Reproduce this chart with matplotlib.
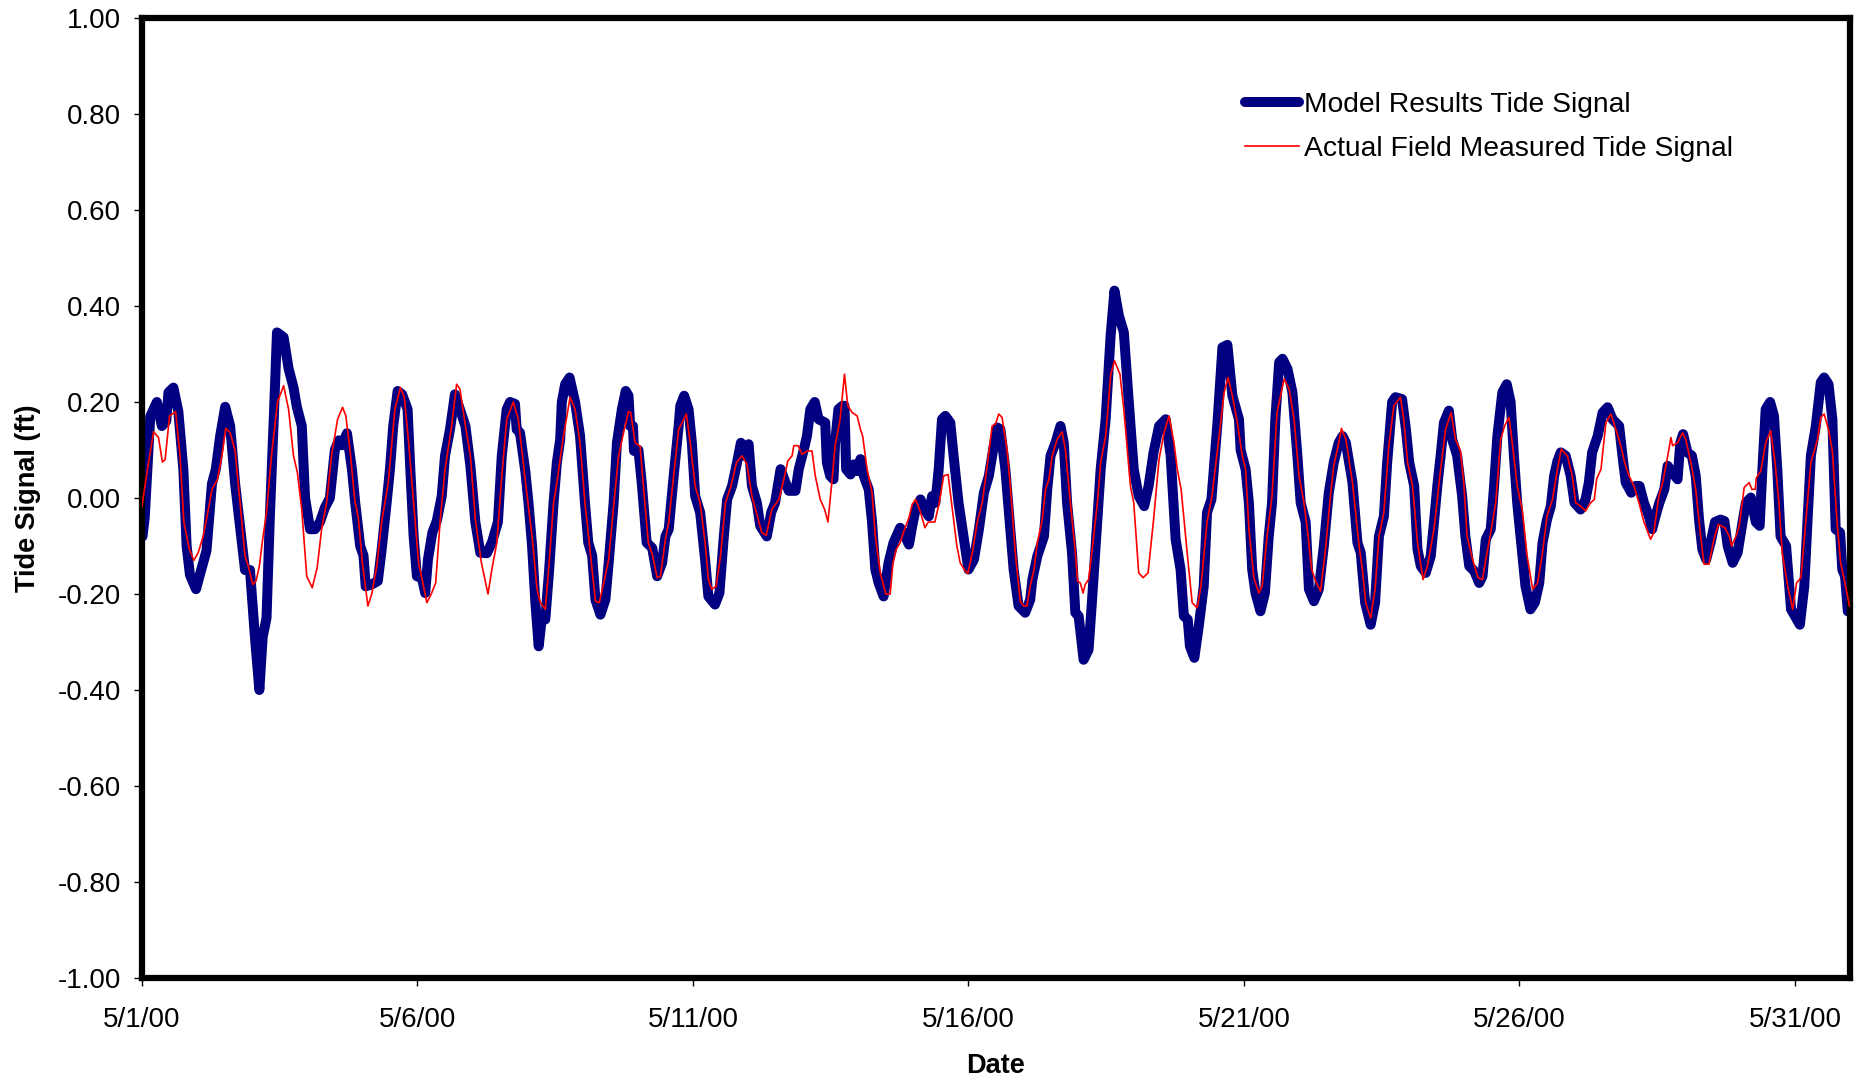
import matplotlib
matplotlib.use("Agg")
import matplotlib.pyplot as plt

plt.rcParams['font.family'] = ['Liberation Sans', 'DejaVu Sans']

# x values: days after 5/1/00 00:00 ; y values: tide signal (ft)
model_day = [0.01, 0.05, 0.15, 0.27, 0.36, 0.44, 0.48, 0.57, 0.66, 0.75, 0.81, 0.87, 0.98, 1.05, 1.17, 1.27, 1.34, 1.42,
             1.51, 1.60, 1.69, 1.81, 1.87, 1.96, 2.05, 2.13, 2.19, 2.26, 2.32, 2.39, 2.45, 2.57, 2.66, 2.75, 2.81, 2.90,
             2.96, 3.05, 3.14, 3.23, 3.32, 3.41, 3.50, 3.57, 3.63, 3.72, 3.81, 3.87, 3.96, 4.02, 4.06, 4.17, 4.28, 4.35,
             4.44, 4.50, 4.56, 4.64, 4.72, 4.82, 4.87, 4.93, 4.99, 5.08, 5.14, 5.19, 5.27, 5.35, 5.44, 5.50, 5.59, 5.68,
             5.77, 5.87, 5.96, 6.05, 6.14, 6.26, 6.35, 6.46, 6.53, 6.62, 6.68, 6.77, 6.80, 6.86, 6.96, 7.02, 7.08, 7.14,
             7.20, 7.26, 7.32, 7.39, 7.47, 7.53, 7.59, 7.62, 7.68, 7.76, 7.86, 7.95, 8.04, 8.10, 8.17, 8.23, 8.32, 8.41,
             8.47, 8.56, 8.62, 8.71, 8.78, 8.83, 8.86, 8.91, 8.93, 9.01, 9.07, 9.16, 9.26, 9.35, 9.44, 9.50, 9.56, 9.65,
             9.74, 9.77, 9.84, 9.92, 9.98, 10.04, 10.13, 10.22, 10.28, 10.40, 10.48, 10.56, 10.62, 10.71, 10.80, 10.87,
             10.93, 11.01, 11.07, 11.16, 11.22, 11.34, 11.42, 11.49, 11.59, 11.68, 11.74, 11.86, 11.92, 12.01, 12.07,
             12.13, 12.21, 12.28, 12.40, 12.43, 12.49, 12.55, 12.58, 12.64, 12.71, 12.75, 12.78, 12.86, 12.92, 12.98,
             13.04, 13.10, 13.19, 13.25, 13.31, 13.37, 13.46, 13.55, 13.64, 13.76, 13.82, 13.92, 13.98, 14.04, 14.13,
             14.22, 14.28, 14.34, 14.40, 14.46, 14.52, 14.58, 14.67, 14.73, 14.82, 14.91, 15.00, 15.10, 15.19, 15.28,
             15.37, 15.46, 15.52, 15.58, 15.67, 15.76, 15.82, 15.91, 16.03, 16.12, 16.16, 16.25, 16.37, 16.43, 16.49,
             16.58, 16.67, 16.73, 16.79, 16.88, 16.94, 17.00, 17.09, 17.18, 17.24, 17.30, 17.40, 17.49, 17.58, 17.65,
             17.73, 17.82, 17.91, 18.00, 18.09, 18.19, 18.27, 18.36, 18.46, 18.58, 18.67, 18.76, 18.85, 18.91, 18.98,
             19.02, 19.10, 19.18, 19.27, 19.33, 19.41, 19.52, 19.61, 19.70, 19.79, 19.91, 19.94, 20.03, 20.09, 20.15,
             20.21, 20.30, 20.38, 20.45, 20.51, 20.57, 20.64, 20.70, 20.79, 20.88, 20.97, 21.03, 21.12, 21.18, 21.27,
             21.36, 21.45, 21.54, 21.63, 21.72, 21.79, 21.85, 21.97, 22.06, 22.12, 22.20, 22.30, 22.38, 22.45, 22.54,
             22.60, 22.69, 22.75, 22.87, 22.94, 23.00, 23.09, 23.15, 23.21, 23.30, 23.39, 23.45, 23.51, 23.57, 23.63,
             23.72, 23.78, 23.87, 23.96, 24.02, 24.09, 24.18, 24.27, 24.33, 24.39, 24.48, 24.54, 24.60, 24.69, 24.77,
             24.84, 24.90, 24.96, 25.02, 25.11, 25.20, 25.28, 25.36, 25.42, 25.50, 25.57, 25.63, 25.69, 25.75, 25.84,
             25.93, 26.00, 26.11, 26.20, 26.26, 26.32, 26.42, 26.51, 26.60, 26.69, 26.81, 26.87, 26.93, 27.03, 27.11,
             27.18, 27.26, 27.35, 27.41, 27.47, 27.54, 27.63, 27.69, 27.78, 27.87, 27.92, 27.97, 28.05, 28.13, 28.20,
             28.26, 28.32, 28.39, 28.47, 28.55, 28.65, 28.72, 28.78, 28.87, 28.96, 29.05, 29.11, 29.20, 29.29, 29.36,
             29.41, 29.47, 29.55, 29.62, 29.68, 29.74, 29.84, 29.93, 30.00, 30.09, 30.17, 30.23, 30.29, 30.38, 30.47,
             30.53, 30.61, 30.68, 30.74, 30.82, 30.86, 30.91, 30.96]
model_ft = [-0.08, -0.04, 0.17, 0.20, 0.15, 0.16, 0.22, 0.23, 0.18, 0.06, -0.10, -0.16, -0.19, -0.16, -0.11, 0.03, 0.06, 0.13,
            0.19, 0.15, 0.03, -0.09, -0.15, -0.15, -0.29, -0.40, -0.29, -0.25, -0.04, 0.16, 0.345, 0.335, 0.27, 0.23, 0.19, 0.15,
            0.00, -0.065, -0.065, -0.05, -0.02, 0.00, 0.10, 0.12, 0.11, 0.135, 0.06, -0.01, -0.10, -0.12, -0.184, -0.18, -0.173, -0.107,
            -0.01, 0.06, 0.15, 0.223, 0.216, 0.185, 0.06, -0.08, -0.163, -0.166, -0.198, -0.128, -0.072, -0.048, 0.004, 0.088, 0.143, 0.216,
            0.185, 0.15, 0.067, -0.05, -0.114, -0.115, -0.093, -0.05, 0.088, 0.185, 0.20, 0.196, 0.143, 0.136, 0.053, -0.017, -0.10, -0.218,
            -0.309, -0.246, -0.253, -0.149, -0.01, 0.074, 0.122, 0.20, 0.237, 0.251, 0.20, 0.13, -0.01, -0.093, -0.12, -0.212, -0.243, -0.212,
            -0.135, -0.01, 0.115, 0.185, 0.223, 0.213, 0.15, 0.15, 0.098, 0.10, 0.032, -0.093, -0.104, -0.163, -0.135, -0.08, -0.065, 0.046,
            0.15, 0.192, 0.213, 0.185, 0.115, 0.004, -0.03, -0.128, -0.205, -0.222, -0.198, -0.08, -0.003, 0.025, 0.074, 0.115,
            0.088, 0.112, 0.025, -0.01, -0.058, -0.08, -0.03, -0.01, 0.06, 0.032, 0.015, 0.015, 0.06, 0.10, 0.13,
            0.185, 0.20, 0.164, 0.157, 0.074, 0.046, 0.039, 0.115, 0.185, 0.192, 0.192, 0.06, 0.049, 0.07, 0.056,
            0.081, 0.046, 0.018, -0.05, -0.149, -0.177, -0.205, -0.135, -0.093, -0.062, -0.072, -0.097, -0.058, -0.024, -0.003,
            -0.027, -0.038, 0.004, -0.01, 0.06, 0.164, 0.171, 0.157, 0.088, -0.01, -0.08, -0.149, -0.128, -0.065, 0.011,
            0.046, 0.109, 0.147, 0.143, 0.06, -0.065, -0.149, -0.225, -0.239, -0.212, -0.17, -0.121, -0.08, 0.018, 0.088,
            0.115, 0.15, 0.115, -0.01, -0.114, -0.239, -0.246, -0.337, -0.316, -0.218, -0.114, 0.06, 0.164, 0.338, 0.432,
            0.38, 0.345, 0.20, 0.06, 0.004, -0.017, 0.025, 0.095, 0.15, 0.164, 0.088, -0.086, -0.149, -0.246, -0.253,
            -0.309, -0.333, -0.267, -0.184, -0.03, -0.003, 0.157, 0.314, 0.319, 0.213, 0.164, 0.10, 0.06, -0.01, -0.149,
            -0.198, -0.236, -0.198, -0.08, -0.01, 0.164, 0.283, 0.29, 0.269, 0.22, 0.088, -0.01, -0.05, -0.19, -0.215,
            -0.19, -0.10, 0.011, 0.074, 0.115, 0.129, 0.115, 0.032, -0.093, -0.114, -0.218, -0.264, -0.218, -0.08, -0.038,
            0.074, 0.20, 0.21, 0.206, 0.143, 0.074, 0.025, -0.107, -0.142, -0.156, -0.121, -0.05, 0.025, 0.088, 0.157,
            0.182, 0.122, 0.088, 0.004, -0.08, -0.142, -0.152, -0.177, -0.163, -0.086, -0.065, 0.025, 0.129, 0.22, 0.237,
            0.20, 0.088, -0.01, -0.08, -0.184, -0.232, -0.218, -0.177, -0.093, -0.045, -0.017, 0.046, 0.077, 0.095, 0.088,
            0.046, -0.01, -0.024, -0.003, 0.032, 0.095, 0.129, 0.178, 0.189, 0.164, 0.15, 0.088, 0.032, 0.011, 0.025,
            0.025, -0.01, -0.038, -0.065, -0.038, -0.01, 0.018, 0.067, 0.053, 0.039, 0.115, 0.133, 0.095, 0.088, 0.046,
            -0.045, -0.107, -0.128, -0.093, -0.05, -0.045, -0.048, -0.10, -0.135, -0.114, -0.05, -0.01, 0.001, -0.05, -0.058,
            0.06, 0.185, 0.20, 0.171, 0.06, -0.08, -0.10, -0.232, -0.246, -0.264, -0.184, -0.045, 0.088, 0.15, 0.241,
            0.251, 0.237, 0.164, -0.065, -0.072, -0.149, -0.163, -0.236]

field_day = [0.00, 0.08, 0.21, 0.30, 0.37, 0.42, 0.50, 0.61, 0.69, 0.76, 0.86, 0.94, 1.02, 1.11, 1.17, 1.27, 1.37, 1.45,
             1.52, 1.60, 1.69, 1.78, 1.87, 1.93, 2.01, 2.07, 2.13, 2.19, 2.26, 2.35, 2.46, 2.57, 2.66, 2.75, 2.82, 2.90,
             2.99, 3.09, 3.18, 3.26, 3.35, 3.44, 3.55, 3.64, 3.70, 3.78, 3.86, 3.93, 4.00, 4.10, 4.17, 4.26, 4.35, 4.47,
             4.59, 4.69, 4.76, 4.84, 4.93, 5.02, 5.11, 5.17, 5.25, 5.33, 5.41, 5.50, 5.62, 5.71, 5.77, 5.87, 5.96, 6.05,
             6.16, 6.28, 6.35, 6.44, 6.53, 6.62, 6.74, 6.83, 6.92, 6.99, 7.08, 7.17, 7.23, 7.32, 7.38, 7.47, 7.53, 7.64,
             7.77, 7.86, 7.95, 8.04, 8.13, 8.23, 8.30, 8.38, 8.47, 8.56, 8.65, 8.74, 8.83, 8.87, 8.95, 9.04, 9.10, 9.19,
             9.27, 9.35, 9.41, 9.50, 9.56, 9.65, 9.74, 9.88, 9.95, 10.04, 10.13, 10.22, 10.28, 10.34, 10.42, 10.50,
             10.59, 10.69, 10.79, 10.89, 10.98, 11.07, 11.16, 11.25, 11.33, 11.43, 11.56, 11.65, 11.72, 11.80, 11.83,
             11.91, 11.98, 12.07, 12.16, 12.22, 12.31, 12.39, 12.45, 12.52, 12.58, 12.67, 12.75, 12.81, 12.89, 12.98,
             13.04, 13.08, 13.16, 13.25, 13.31, 13.40, 13.50, 13.58, 13.63, 13.69, 13.76, 13.82, 13.92, 13.98, 14.04,
             14.13, 14.21, 14.27, 14.39, 14.47, 14.55, 14.63, 14.70, 14.79, 14.85, 14.94, 14.99, 15.07, 15.16, 15.25,
             15.34, 15.43, 15.49, 15.55, 15.61, 15.70, 15.76, 15.85, 15.94, 16.00, 16.06, 16.12, 16.19, 16.25, 16.34,
             16.40, 16.46, 16.52, 16.61, 16.70, 16.76, 16.85, 16.94, 16.98, 17.03, 17.08, 17.12, 17.18, 17.24, 17.34,
             17.40, 17.49, 17.58, 17.65, 17.75, 17.82, 17.94, 18.00, 18.09, 18.17, 18.26, 18.36, 18.46, 18.55, 18.64,
             18.73, 18.79, 18.86, 18.97, 19.06, 19.15, 19.22, 19.33, 19.42, 19.55, 19.64, 19.71, 19.79, 19.88, 19.97,
             20.03, 20.09, 20.18, 20.27, 20.33, 20.42, 20.51, 20.60, 20.73, 20.82, 20.91, 21.00, 21.09, 21.15, 21.23,
             21.30, 21.39, 21.48, 21.57, 21.63, 21.71, 21.77, 21.85, 21.97, 22.09, 22.15, 22.21, 22.30, 22.38, 22.45,
             22.54, 22.63, 22.72, 22.84, 22.90, 22.97, 23.06, 23.15, 23.25, 23.33, 23.45, 23.57, 23.66, 23.76, 23.84,
             23.93, 23.99, 24.05, 24.15, 24.25, 24.33, 24.39, 24.48, 24.57, 24.66, 24.73, 24.81, 24.87, 24.96, 25.05,
             25.14, 25.24, 25.33, 25.42, 25.50, 25.60, 25.69, 25.76, 25.81, 25.87, 25.96, 26.02, 26.11, 26.20, 26.29,
             26.36, 26.40, 26.48, 26.57, 26.66, 26.75, 26.84, 26.91, 26.99, 27.08, 27.17, 27.26, 27.38, 27.44, 27.53,
             27.60, 27.67, 27.75, 27.78, 27.87, 27.96, 28.02, 28.11, 28.20, 28.29, 28.35, 28.44, 28.53, 28.61, 28.73,
             28.81, 28.85, 28.93, 28.99, 29.08, 29.17, 29.22, 29.28, 29.30, 29.38, 29.47, 29.56, 29.64, 29.71, 29.77,
             29.87, 29.96, 30.03, 30.11, 30.20, 30.29, 30.41, 30.47, 30.53, 30.61, 30.68, 30.77, 30.83, 30.92, 30.99]
field_ft = [-0.017, 0.046, 0.138, 0.126, 0.075, 0.08, 0.171, 0.18, 0.088, -0.05, -0.107, -0.13, -0.114, -0.08, -0.045, 0.018, 0.039, 0.088,
            0.145, 0.136, 0.098, -0.01, -0.121, -0.142, -0.18, -0.173, -0.142, -0.086, -0.03, 0.088, 0.20, 0.234, 0.185, 0.088, 0.053, -0.024,
            -0.163, -0.187, -0.145, -0.065, -0.01, 0.088, 0.164, 0.189, 0.171, 0.095, -0.003, -0.045, -0.135, -0.225, -0.20, -0.142, -0.05, 0.032,
            0.185, 0.23, 0.21, 0.115, -0.01, -0.135, -0.184, -0.218, -0.20, -0.177, -0.05, 0.06, 0.15, 0.237, 0.227, 0.15, 0.088, -0.045,
            -0.135, -0.20, -0.149, -0.093, 0.046, 0.164, 0.20, 0.164, 0.074, 0.004, -0.08, -0.19, -0.218, -0.232, -0.149, -0.01, 0.032, 0.122,
            0.21, 0.185, 0.115, -0.01, -0.107, -0.215, -0.218, -0.177, -0.128, -0.017, 0.088, 0.136, 0.18, 0.178, 0.115, 0.108, 0.025, -0.093,
            -0.121, -0.166, -0.163, -0.086, -0.05, 0.046, 0.143, 0.175, 0.115, 0.025, -0.01, -0.093, -0.17, -0.19, -0.184, -0.121,
            -0.01, 0.025, 0.074, 0.088, 0.07, 0.004, -0.034, -0.072, -0.078, -0.024, -0.003, 0.039, 0.077, 0.088, 0.109,
            0.109, 0.091, 0.098, 0.098, 0.046, -0.003, -0.024, -0.05, 0.032, 0.109, 0.164, 0.258, 0.192, 0.178, 0.171,
            0.143, 0.129, 0.06, 0.011, -0.08, -0.156, -0.20, -0.20, -0.135, -0.107, -0.093, -0.072, -0.041, -0.013, -0.003,
            -0.03, -0.062, -0.05, -0.05, -0.01, 0.046, 0.049, -0.017, -0.10, -0.135, -0.152, -0.157, -0.114, -0.05, -0.01,
            0.067, 0.15, 0.154, 0.175, 0.168, 0.10, 0.025, -0.114, -0.215, -0.225, -0.225, -0.184, -0.149, -0.093, -0.045,
            0.018, 0.039, 0.088, 0.122, 0.138, 0.10, -0.01, -0.114, -0.173, -0.177, -0.198, -0.18, -0.17, -0.114, -0.01,
            0.074, 0.129, 0.255, 0.286, 0.258, 0.185, 0.025, -0.01, -0.156, -0.166, -0.156, -0.045, 0.081, 0.136, 0.171,
            0.115, 0.06, 0.018, -0.114, -0.218, -0.229, -0.184, -0.05, 0.004, 0.129, 0.22, 0.251, 0.213, 0.157, 0.088,
            0.06, -0.065, -0.166, -0.198, -0.184, -0.08, 0.004, 0.178, 0.248, 0.227, 0.164, 0.046, -0.01, -0.065, -0.149,
            -0.173, -0.194, -0.107, 0.004, 0.067, 0.109, 0.145, 0.122, 0.032, -0.10, -0.149, -0.218, -0.25, -0.19, -0.08,
            -0.03, 0.109, 0.192, 0.21, 0.164, 0.074, 0.025, -0.093, -0.17, -0.142, -0.065, 0.06, 0.143, 0.178, 0.122,
            0.098, 0.032, -0.08, -0.128, -0.166, -0.17, -0.128, -0.072, -0.01, 0.122, 0.15, 0.168, 0.115, 0.025, -0.024,
            -0.121, -0.19, -0.177, -0.114, -0.038, -0.003, 0.06, 0.102, 0.095, 0.088, 0.046, -0.01, -0.017, -0.027, -0.01,
            -0.003, 0.039, 0.06, 0.157, 0.175, 0.143, 0.109, 0.074, 0.046, 0.025, -0.01, -0.05, -0.086, -0.072, 0.004,
            0.032, 0.074, 0.126, 0.109, 0.115, 0.136, 0.122, 0.074, 0.018, -0.08, -0.138, -0.138, -0.086, -0.055, -0.062,
            -0.08, -0.10, -0.08, -0.058, 0.022, 0.032, 0.018, 0.018, 0.042, 0.056, 0.115, 0.14, 0.074, -0.01, -0.114,
            -0.184, -0.232, -0.177, -0.166, -0.045, 0.074, 0.122, 0.168, 0.175, 0.143, 0.098, -0.058, -0.135, -0.184, -0.225]

x_tick_pos = [0, 5, 10, 15, 20, 25, 30]
x_tick_labels = ["5/1/00", "5/6/00", "5/11/00", "5/16/00", "5/21/00", "5/26/00", "5/31/00"]
y_ticks = [-1.0, -0.8, -0.6, -0.4, -0.2, 0.0, 0.2, 0.4, 0.6, 0.8, 1.0]

W, H = 1864, 1081
fig = plt.figure(figsize=(W / 100, H / 100), dpi=100)
ax = fig.add_axes([142 / W, 1 - 978 / H, (1850 - 142) / W, (978 - 18) / H])

ax.plot(model_day, model_ft, color='#000080', lw=7.2, solid_joinstyle='round', solid_capstyle='round',
        label='Model Results Tide Signal', zorder=2)
ax.plot(field_day, field_ft, color='#ff0000', lw=1.2, label='Actual Field Measured Tide Signal', zorder=3)

ax.set_xlim(0, 31)
ax.set_ylim(-1.0, 1.0)
ax.set_xticks(x_tick_pos)
ax.set_xticklabels(x_tick_labels)
ax.set_yticks(y_ticks)
ax.set_yticklabels([f"{v:.2f}" for v in y_ticks])

for s in ax.spines.values():
    s.set_linewidth(4.5)
    s.set_color('black')

ax.tick_params(axis='both', direction='out', length=6, width=1.0, labelsize=20, colors='black')
ax.tick_params(axis='y', pad=9)
ax.tick_params(axis='x', pad=15)

ax.set_ylabel('Tide Signal (ft)', fontsize=19.5, fontweight='bold', va='center')
ax.yaxis.set_label_coords((28 - 142) / 1708, 0.5)
ax.set_xlabel('Date', fontsize=19.5, fontweight='bold', va='center')
ax.xaxis.set_label_coords(0.5, (978 - 1066) / 960)

leg = ax.legend(loc='upper left', bbox_to_anchor=((1245 - 142) / 1708, 0.923), frameon=False, fontsize=20.3,
                handlelength=1.9, handletextpad=0.2, labelspacing=0.65, borderpad=0, borderaxespad=0)

fig.savefig('out.png', dpi=100)
